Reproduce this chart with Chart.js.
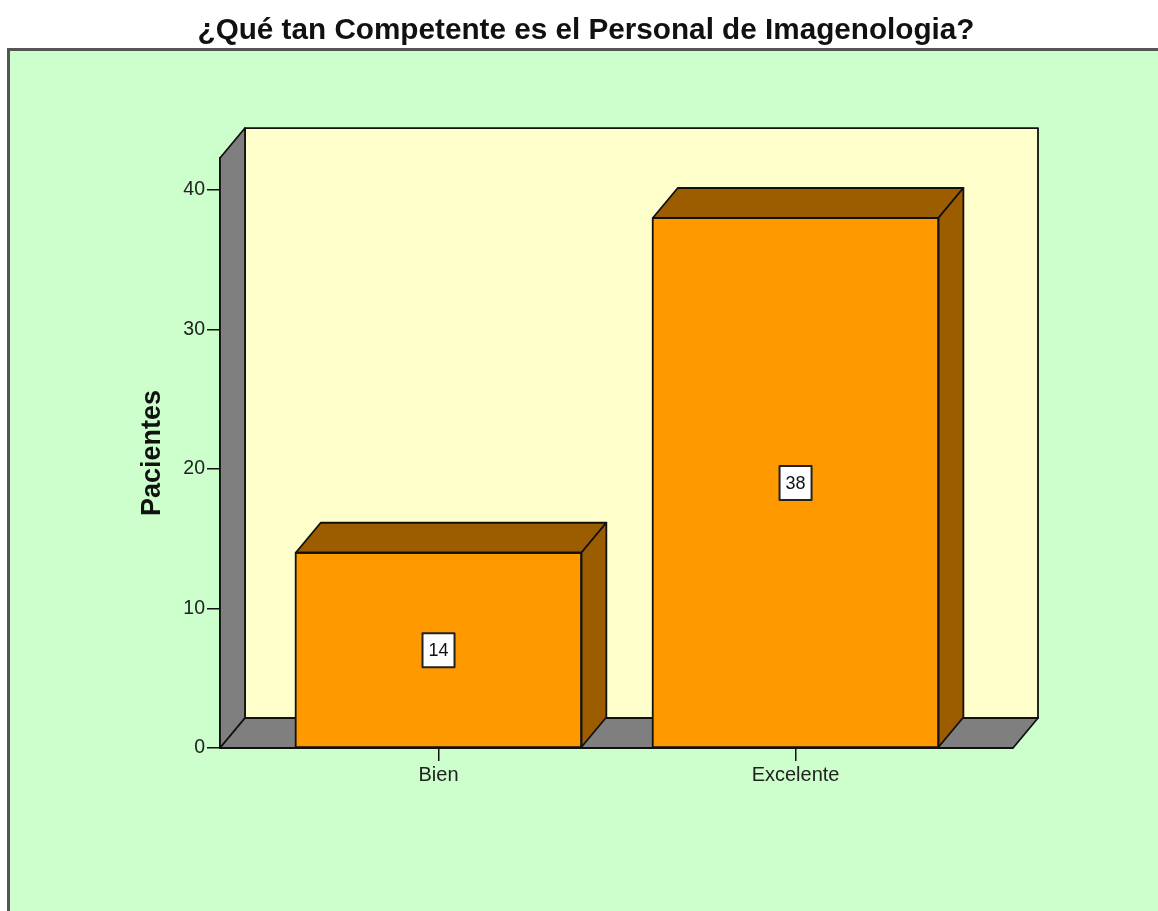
<!DOCTYPE html>
<html><head><meta charset="utf-8">
<script src="https://cdn.jsdelivr.net/npm/chart.js@4/dist/chart.umd.min.js"></script>
<style>html,body{margin:0;padding:0;background:#fff;overflow:hidden}#wrap{width:1158px;height:911px;position:relative}</style>
</head><body><div id="wrap"><canvas id="c" width="1158" height="911"></canvas></div>
<script>
const chartTitle = '¿Qué tan Competente es el Personal de Imagenologia?';
const yAxisTitle = 'Pacientes';
const categories = ['Bien', 'Excelente'];
const pacientes = [14, 38];
const yTickValues = [0, 10, 20, 30, 40];

const DX = 25, DY = -30;
const FONT = "'Liberation Sans', Arial, Helvetica, sans-serif";

function poly(ctx, pts, fill) {
  ctx.beginPath();
  ctx.moveTo(pts[0][0], pts[0][1]);
  for (let i = 1; i < pts.length; i++) ctx.lineTo(pts[i][0], pts[i][1]);
  ctx.closePath();
  ctx.fillStyle = fill;
  ctx.fill();
  ctx.stroke();
}

const panel3d = {
  id: 'panel3d',
  beforeDraw(chart) {
    const ctx = chart.ctx;
    ctx.save();
    ctx.fillStyle = '#ffffff';
    ctx.fillRect(0, 0, chart.width, chart.height);
    ctx.fillStyle = '#ccffcc';
    ctx.fillRect(8, 48, chart.width, chart.height);
    ctx.strokeStyle = '#555555';
    ctx.lineWidth = 3;
    ctx.strokeRect(8.5, 49.5, chart.width + 20, chart.height + 20);
    ctx.restore();
  },
  beforeDatasetsDraw(chart) {
    const ctx = chart.ctx, a = chart.chartArea;
    ctx.save();
    ctx.strokeStyle = '#111';
    ctx.lineWidth = 1.8;
    ctx.lineJoin = 'round';
    poly(ctx, [[a.left + DX, a.top + DY], [a.right + DX, a.top + DY], [a.right + DX, a.bottom + DY], [a.left + DX, a.bottom + DY]], '#ffffcc');
    poly(ctx, [[a.left, a.top], [a.left + DX, a.top + DY], [a.left + DX, a.bottom + DY], [a.left, a.bottom]], '#7f7f7f');
    poly(ctx, [[a.left, a.bottom], [a.left + DX, a.bottom + DY], [a.right + DX, a.bottom + DY], [a.right, a.bottom]], '#7f7f7f');
    ctx.restore();
  },
  afterDatasetsDraw(chart) {
    const ctx = chart.ctx;
    const meta = chart.getDatasetMeta(0);
    const yScale = chart.scales.y;
    ctx.save();
    ctx.strokeStyle = '#111';
    ctx.lineWidth = 1.8;
    ctx.lineJoin = 'round';
    meta.data.forEach((bar) => {
      const p = bar.getProps(['x', 'y', 'width', 'base'], true);
      const l = p.x - p.width / 2, r = p.x + p.width / 2;
      poly(ctx, [[l, p.y], [l + DX, p.y + DY], [r + DX, p.y + DY], [r, p.y]], '#9c5c00');
      poly(ctx, [[r, p.y], [r + DX, p.y + DY], [r + DX, p.base + DY], [r, p.base]], '#9c5c00');
      ctx.strokeRect(l, p.y, p.width, p.base - p.y);
    });
    ctx.font = '18px ' + FONT;
    ctx.textAlign = 'center';
    ctx.textBaseline = 'middle';
    meta.data.forEach((bar, i) => {
      const v = pacientes[i];
      const cx = bar.x;
      const cy = yScale.getPixelForValue(v / 2);
      const txt = String(v);
      const w = ctx.measureText(txt).width + 12, h = 34;
      ctx.fillStyle = '#ffffff';
      ctx.fillRect(cx - w / 2, cy - h / 2, w, h);
      ctx.strokeStyle = '#222';
      ctx.lineWidth = 2;
      ctx.strokeRect(cx - w / 2, cy - h / 2, w, h);
      ctx.fillStyle = '#111';
      ctx.fillText(txt, cx, cy + 1);
    });
    ctx.restore();
  }
};

Chart.defaults.font.family = FONT;

new Chart(document.getElementById('c'), {
  type: 'bar',
  data: {
    datasets: [{
      label: yAxisTitle,
      data: categories.map((c, i) => ({ x: i + 1, y: pacientes[i] })),
      backgroundColor: '#ff9900',
      borderColor: '#111',
      borderWidth: 0,
      borderSkipped: false,
      barPercentage: 0.8,
      categoryPercentage: 1.0
    }]
  },
  options: {
    responsive: false,
    animation: false,
    devicePixelRatio: 1,
    layout: { padding: { left: 14, right: 0, top: 0, bottom: 0 } },
    plugins: {
      legend: { display: false },
      tooltip: { enabled: false },
      title: {
        display: true,
        text: chartTitle,
        color: '#111',
        font: { size: 29.7, weight: 'bold', family: FONT },
        padding: { top: 13, bottom: 109.4 }
      }
    },
    scales: {
      x: {
        type: 'linear',
        offset: false,
        min: 0.388,
        max: 2.609,
        afterBuildTicks(s) { s.ticks = categories.map((c, i) => ({ value: i + 1 })); },
        afterFit(s) { s.height = 163; },
        ticks: {
          callback: (v) => categories[Math.round(v) - 1] || '',
          color: '#222',
          font: { size: 20 },
          padding: 2,
          maxRotation: 0,
          autoSkip: false
        },
        grid: { offset: false, drawOnChartArea: false, drawTicks: true, tickLength: 13, color: '#111', lineWidth: 1.5 },
        border: { display: true, color: '#111', width: 1.5 }
      },
      y: {
        type: 'linear',
        min: 0,
        max: 42.3,
        afterBuildTicks(s) { s.ticks = yTickValues.map(v => ({ value: v })); },
        afterFit(s) { s.width = 206; },
        ticks: { color: '#222', font: { size: 19.5 }, padding: 2 },
        grid: { drawOnChartArea: false, drawTicks: true, tickLength: 13, color: '#111', lineWidth: 1.5 },
        border: { display: true, color: '#111', width: 1.5 },
        title: {
          display: true,
          text: yAxisTitle,
          color: '#111',
          font: { size: 27, weight: 'bold', family: FONT },
          padding: { top: 122.3, bottom: 0 }
        }
      },
      pad: {
        type: 'linear',
        position: 'right',
        display: true,
        afterFit(s) { s.width = 145; },
        ticks: { display: false },
        grid: { display: false },
        border: { display: false }
      }
    }
  },
  plugins: [panel3d]
});
</script>
</body></html>
